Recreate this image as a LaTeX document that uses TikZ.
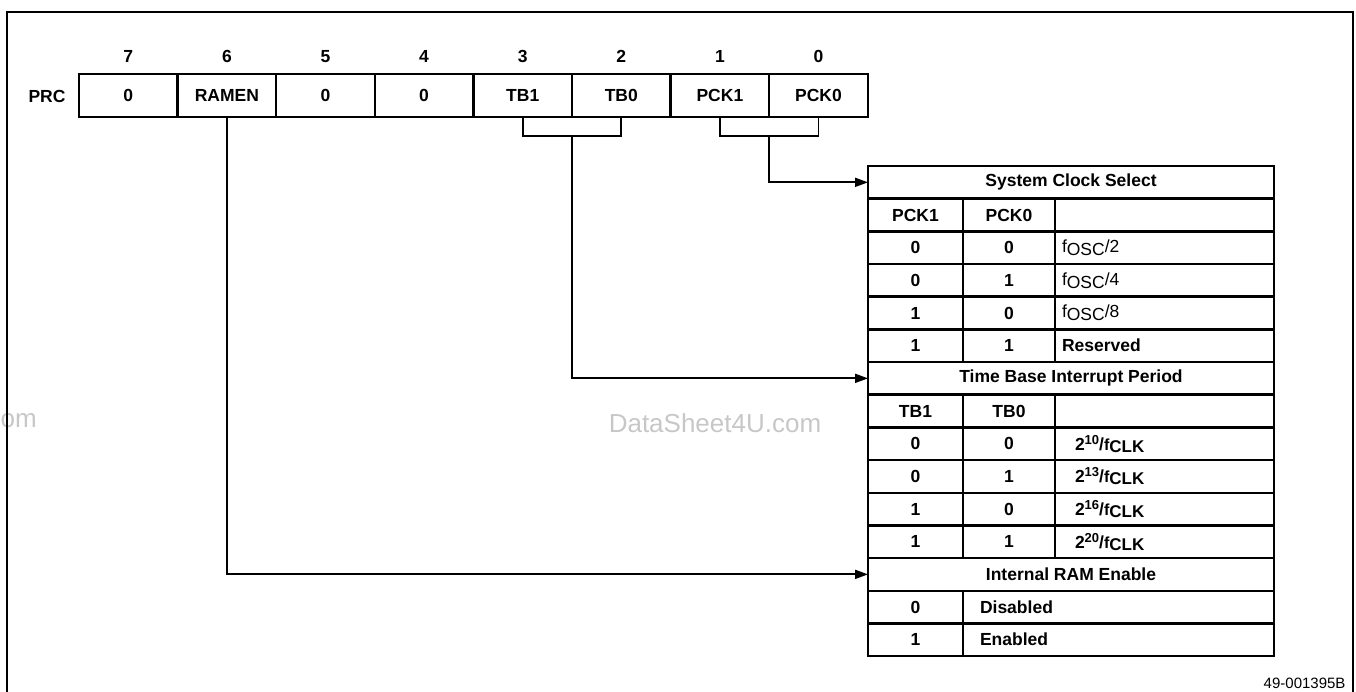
\documentclass[tikz,border=0pt]{standalone}
\usepackage{fontspec}
\setmainfont{Liberation Sans}
\usetikzlibrary{arrows.meta,positioning,calc}

% clock divider and time base entries
\newcommand{\fosc}[1]{{\mdseries\fontsize{17.5}{18}\selectfont f\raisebox{-3pt}{OSC}/#1}}
\newcommand{\tclk}[1]{2\raisebox{6pt}{\fontsize{13}{13}\selectfont #1}/{\fontsize{16}{16}\selectfont f}\raisebox{-2pt}{\fontsize{17}{17}\selectfont CLK}}

\begin{document}
\begin{tikzpicture}[x=1pt, y=-1pt, font=\fontsize{17.5}{19}\selectfont\bfseries,
  cell/.style={draw, line width=2.4pt, minimum width=98.6pt, minimum height=43pt, inner sep=0pt, outer sep=0pt},
  tcell/.style={draw, line width=2.4pt, minimum height=32.67pt, inner sep=0pt, outer sep=0pt, anchor=north west},
  link/.style={line width=1.9pt},
  feed/.style={link, -{Triangle[length=13pt, width=9pt]}}]
  \useasboundingbox (0,0) rectangle (1356,692);
  \clip (0,0) rectangle (1356,692);

  % watermark
  \node[font=\fontsize{26}{28}\selectfont, text=black!22] (mark) at (715,423) {DataSheet4U.com};
  \node[font=\fontsize{26}{28}\selectfont, text=black!22, anchor=west, inner sep=0pt] (markl) at (0.5,421) {om};

  % frame
  \draw[line width=1.8pt] (7,700) -- (7,12) -- (1353,12) -- (1353,700);

  % register
  \node (prc) at (47,96) {PRC};
  \foreach \i/\txt [count=\k from 0] in {7/0, 6/RAMEN, 5/0, 4/0, 3/TB1, 2/TB0, 1/PCK1, 0/PCK0} {
    \node[cell] (b\i) at ({128.3+98.6*\k},95.5) {\txt};
    \node[anchor=base, inner sep=0pt] (n\i) at ({128.3+98.6*\k},63) {\i};
  }

  % system clock select
  \node[tcell, minimum width=406pt] (hclk) at (868,166) {System Clock Select};
  \foreach \r/\p/\q/\v in {1/PCK1/PCK0/{}, 2/0/0/{\fosc{2}}, 3/0/1/{\fosc{4}}, 4/1/0/{\fosc{8}}, 5/1/1/{Reserved}} {
    \node[tcell, minimum width=95pt] (clk\r-a) at (868,{166+32.67*\r}) {\p};
    \node[tcell, minimum width=92pt] (clk\r-b) at (963,{166+32.67*\r}) {\q};
    \node[tcell, text width=205pt, inner xsep=7pt, align=left] (clk\r-c) at (1055,{166+32.67*\r}) {\v};
  }

  % time base interrupt period
  \node[tcell, minimum width=406pt] (htb) at (868,{166+32.67*6}) {Time Base Interrupt Period};
  \foreach \r/\p/\q/\v in {7/TB1/TB0/{}, 8/0/0/{\tclk{10}}, 9/0/1/{\tclk{13}}, 10/1/0/{\tclk{16}}, 11/1/1/{\tclk{20}}} {
    \node[tcell, minimum width=95pt] (tb\r-a) at (868,{166+32.67*\r}) {\p};
    \node[tcell, minimum width=92pt] (tb\r-b) at (963,{166+32.67*\r}) {\q};
    \node[tcell, text width=179pt, inner xsep=20pt, align=left] (tb\r-c) at (1055,{166+32.67*\r}) {\v};
  }

  % internal RAM enable
  \node[tcell, minimum width=406pt] (hram) at (868,{166+32.67*12}) {Internal RAM Enable};
  \foreach \r/\p/\v in {13/0/Disabled, 14/1/Enabled} {
    \node[tcell, minimum width=95pt] (ram\r-a) at (868,{166+32.67*\r}) {\p};
    \node[tcell, text width=277pt, inner xsep=17pt, align=left] (ram\r-b) at (963,{166+32.67*\r}) {\v};
  }

  % connectors
  \coordinate (tbj) at ($(b3.south)!0.5!(b2.south)+(0,19)$);
  \coordinate (pckj) at ($(b1.south)!0.5!(b0.south)+(0,19)$);
  \draw[link] (b3.south) |- (tbj) -| (b2.south);
  \draw[link] (b1.south) |- (pckj) -| (b0.south);
  \draw[feed] (pckj) |- (hclk.west);
  \draw[feed] (tbj) |- (htb.west);
  \draw[feed] (b6.south) |- (hram.west);

  \node[font=\fontsize{15}{16}\selectfont, anchor=east] (fig) at (1349,683) {49-001395B};
\end{tikzpicture}
\end{document}
